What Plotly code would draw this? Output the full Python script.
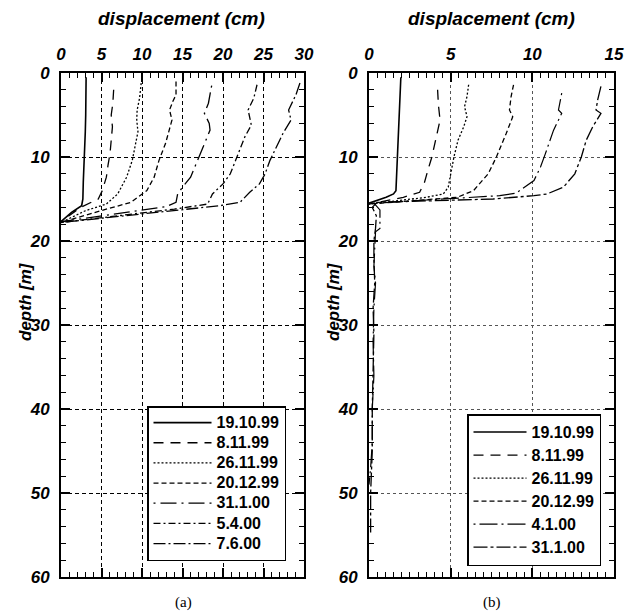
import plotly.graph_objects as go

# ---------------- data: panel (a) ----------------
a_names = ["19.10.99", "8.11.99", "26.11.99", "20.12.99", "31.1.00", "5.4.00", "7.6.00"]
a_depth_19_10_99 = [0.5, 3, 5, 7, 9, 11, 13, 15, 15.8, 16.6, 17.7]
a_disp_19_10_99 = [3.1, 3.1, 3.05, 3.0, 2.9, 2.8, 2.75, 2.7, 2.55, 1.3, 0.0]
a_depth_8_11_99 = [2.0, 3.6, 5.0, 6.4, 8.0, 9.6, 11.0, 12.4, 14.0, 15.0, 16.0, 17.7]
a_disp_8_11_99 = [6.5, 6.4, 6.2, 6.35, 6.2, 6.05, 5.8, 5.6, 5.1, 4.6, 2.4, 0.0]
a_depth_26_11_99 = [1.2, 3.0, 4.4, 5.6, 7.0, 8.4, 10.4, 12.4, 14.4, 15.6, 16.4, 17.8]
a_disp_26_11_99 = [9.9, 9.7, 9.4, 9.35, 9.5, 9.2, 8.8, 8.1, 7.0, 5.6, 3.0, 0.0]
a_depth_20_12_99 = [1.0, 2.6, 3.4, 4.4, 5.6, 7.0, 8.4, 10.4, 12.4, 14.0, 15.4, 16.4, 17.8]
a_disp_20_12_99 = [14.2, 14.2, 13.8, 13.4, 13.7, 13.3, 12.9, 12.1, 11.5, 10.6, 8.6, 4.9, 0.0]
a_depth_31_1_00 = [1.5, 3.6, 4.8, 6.0, 6.8, 8.0, 9.4, 11.0, 12.4, 13.6, 14.4, 15.4, 15.9, 17.7]
a_disp_31_1_00 = [18.6, 18.2, 17.7, 18.3, 18.4, 17.9, 17.3, 16.6, 16.0, 15.0, 14.4, 14.2, 13.0, 0.0]
a_depth_5_4_00 = [1.4, 3.0, 4.4, 5.6, 6.2, 7.6, 10.0, 12.0, 13.2, 14.4, 15.6, 16.2, 17.8]
a_disp_5_4_00 = [24.2, 23.8, 23.1, 23.4, 23.5, 22.7, 21.7, 20.9, 20.0, 18.7, 18.1, 14.0, 0.0]
a_depth_7_6_00 = [1.2, 2.6, 4.4, 5.6, 7.2, 8.8, 10.4, 12.0, 13.2, 14.2, 15.4, 15.8, 17.8]
a_disp_7_6_00 = [29.5, 29.0, 28.1, 28.4, 27.4, 26.6, 25.8, 25.2, 24.5, 23.3, 22.1, 19.6, 0.0]

# ---------------- data: panel (b) ----------------
b_names = ["19.10.99", "8.11.99", "26.11.99", "20.12.99", "4.1.00", "31.1.00"]
b_depth_19_10_99 = [0.5, 3, 6, 9, 12, 14, 14.4, 14.8, 15.5]
b_disp_19_10_99 = [1.95, 1.9, 1.85, 1.75, 1.7, 1.65, 1.5, 1.05, 0.0]
b_depth_8_11_99 = [2.0, 3.8, 5.6, 7.0, 8.6, 10.0, 11.6, 13.0, 14.2, 14.8, 15.6]
b_disp_8_11_99 = [4.2, 4.25, 4.35, 4.2, 4.0, 3.85, 3.6, 3.4, 3.1, 2.1, 0.0]
b_depth_26_11_99 = [1.4, 2.8, 4.0, 5.2, 6.4, 8.0, 10.0, 12.0, 13.6, 14.4, 14.8, 15.6]
b_disp_26_11_99 = [6.1, 6.0, 5.85, 6.0, 5.8, 5.45, 5.2, 5.0, 4.85, 4.55, 3.5, 0.0]
b_depth_20_12_99 = [1.4, 2.8, 4.4, 5.2, 7.2, 10.0, 12.0, 14.0, 14.8, 15.6]
b_disp_20_12_99 = [8.85, 8.7, 8.6, 8.8, 8.4, 7.8, 7.3, 6.4, 5.4, 0.0]
b_depth_4_1_00 = [2.4, 4.4, 4.8, 6.8, 9.6, 11.2, 12.8, 14.3, 14.6, 15.5, 16.3, 18.5, 18.9,
                  20.3, 23, 25, 28, 32, 36, 40, 44, 47, 49]
b_disp_4_1_00 = [11.8, 11.6, 11.8, 11.3, 10.8, 10.5, 10.1, 9.0, 8.0, 0.3, 0.67, 0.67, 0.4,
                 0.35, 0.3, 0.4, 0.3, 0.25, 0.3, 0.2, 0.2, 0.1, 0.0]
b_depth_31_1_00 = [1.6, 3.2, 4.4, 4.8, 6.4, 8.0, 10.0, 12.0, 13.6, 14.4, 14.6, 15.0, 15.4,
                   16.0, 17, 18.5, 20, 22, 25, 28, 31, 35, 40, 45, 50, 55]
b_disp_31_1_00 = [14.2, 14.0, 13.9, 14.2, 13.7, 13.3, 13.0, 12.6, 11.9, 10.9, 10.1, 7.6, 0.5,
                  0.2, 0.45, 0.4, 0.3, 0.3, 0.35, 0.25, 0.3, 0.25, 0.2, 0.2, 0.1, 0.1]

a_x_range = [0, 30]
b_x_range = [0, 15]
y_range = [60, 0]

# ---------------- styles ----------------
a_series = [
    (a_names[0], a_disp_19_10_99, a_depth_19_10_99, "solid", 1.6),
    (a_names[1], a_disp_8_11_99, a_depth_8_11_99, "10px,7px", 1.3),
    (a_names[2], a_disp_26_11_99, a_depth_26_11_99, "2px,2px", 1.3),
    (a_names[3], a_disp_20_12_99, a_depth_20_12_99, "5px,3px", 1.3),
    (a_names[4], a_disp_31_1_00, a_depth_31_1_00, "2px,5px,16px,5px", 1.3),
    (a_names[5], a_disp_5_4_00, a_depth_5_4_00, "7px,3px,2px,3px", 1.3),
    (a_names[6], a_disp_7_6_00, a_depth_7_6_00, "12px,3px,2px,3px", 1.3),
]
b_series = [
    (b_names[0], b_disp_19_10_99, b_depth_19_10_99, "solid", 1.6),
    (b_names[1], b_disp_8_11_99, b_depth_8_11_99, "10px,7px", 1.3),
    (b_names[2], b_disp_26_11_99, b_depth_26_11_99, "2px,2px", 1.3),
    (b_names[3], b_disp_20_12_99, b_depth_20_12_99, "5px,3px", 1.3),
    (b_names[4], b_disp_4_1_00, b_depth_4_1_00, "2px,4px,18px,4px", 1.2),
    (b_names[5], b_disp_31_1_00, b_depth_31_1_00, "14px,3px,3px,3px", 1.3),
]


def big(label):
    return '<span style="font-size:16px">' + label + "</span>"


fig = go.Figure()
for name, xs, ys, dash, w in a_series:
    fig.add_trace(go.Scatter(x=xs, y=ys, mode="lines", name=big(name),
                             line=dict(color="black", width=w, dash=dash),
                             xaxis="x", yaxis="y", legend="legend"))
for name, xs, ys, dash, w in b_series:
    fig.add_trace(go.Scatter(x=xs, y=ys, mode="lines", name=big(name),
                             line=dict(color="black", width=w, dash=dash),
                             xaxis="x2", yaxis="y2", legend="legend2"))

FONT = "Liberation Sans, Arial, sans-serif"
tickfont = dict(family=FONT, size=17, color="black", weight="bold", style="italic")


def xax(domain, rng, minor_dt, anchor, gridcolor, griddash):
    return dict(domain=domain, range=rng, side="top", tickmode="linear", tick0=0, dtick=5,
                ticks="inside", ticklen=9, tickwidth=1.5, tickcolor="black",
                mirror="allticks", showline=True, linewidth=2, linecolor="black",
                showgrid=True, gridcolor=gridcolor, gridwidth=1, griddash=griddash,
                zeroline=False, automargin=False, ticklabelstandoff=4,
                minor=dict(tick0=0, dtick=minor_dt, ticks="inside", ticklen=5, tickwidth=1.2,
                           tickcolor="black", showgrid=False),
                tickfont=tickfont, anchor=anchor, fixedrange=True)


def yax(domain, anchor, gridcolor, griddash):
    return dict(domain=domain, range=y_range, tickmode="linear", tick0=0, dtick=10,
                ticks="inside", ticklen=9, tickwidth=1.5, tickcolor="black",
                mirror="allticks", showline=True, linewidth=2, linecolor="black",
                showgrid=True, gridcolor=gridcolor, gridwidth=1, griddash=griddash,
                zeroline=False, automargin=False, ticklabelstandoff=6,
                minor=dict(tick0=0, dtick=2, ticks="inside", ticklen=5, tickwidth=1.2,
                           tickcolor="black", showgrid=False),
                tickfont=tickfont, anchor=anchor, fixedrange=True)


W, H = 636, 615
ydom = [1 - 577 / H, 1 - 73 / H]

fig.update_layout(
    width=W, height=H, margin=dict(l=0, r=0, t=0, b=0),
    paper_bgcolor="white", plot_bgcolor="white",
    xaxis=xax([61 / W, 304 / W], a_x_range, 1, "y", "black", "4px,3px"),
    yaxis=yax(ydom, "x", "black", "4px,3px"),
    xaxis2=xax([369 / W, 614 / W], b_x_range, 0.5, "y2", "#555", "3px,3px"),
    yaxis2=yax(ydom, "x2", "#555", "3px,3px"),
    legend=dict(x=147 / W, y=1 - 406 / H, xanchor="left", yanchor="top",
                bgcolor="white", bordercolor="black", borderwidth=1.5,
                font=dict(family=FONT, size=13.2, color="black", weight="bold"),
                itemwidth=58, tracegroupgap=0),
    legend2=dict(x=467 / W, y=1 - 414 / H, xanchor="left", yanchor="top",
                 bgcolor="white", bordercolor="black", borderwidth=1.5,
                 font=dict(family=FONT, size=15.4, color="black", weight="bold"),
                 itemwidth=53, tracegroupgap=0),
    showlegend=True,
)

title_font = dict(family=FONT, size=19, color="black", weight="bold", style="italic")
ylab_font = dict(family=FONT, size=17, color="black", weight="bold", style="italic")
ann = [
    dict(text="displacement (cm)", x=181 / W, y=1 - 18 / H, font=title_font),
    dict(text="displacement (cm)", x=491 / W, y=1 - 18 / H, font=title_font),
    dict(text="depth [m]", x=26 / W, y=1 - 302 / H, font=ylab_font, textangle=-90),
    dict(text="depth [m]", x=334 / W, y=1 - 302 / H, font=ylab_font, textangle=-90),
    dict(text="(a)", x=183 / W, y=1 - 602 / H,
         font=dict(family="Liberation Serif, Times New Roman, serif", size=15, color="black")),
    dict(text="(b)", x=492 / W, y=1 - 602 / H,
         font=dict(family="Liberation Serif, Times New Roman, serif", size=15, color="black")),
]
for a in ann:
    fig.add_annotation(xref="paper", yref="paper", showarrow=False,
                       xanchor="center", yanchor="middle", **a)

fig.write_html("out.html", config={"displayModeBar": False},
               post_script="document.body.style.margin='0px';"
                           "document.body.style.padding='0px';")
